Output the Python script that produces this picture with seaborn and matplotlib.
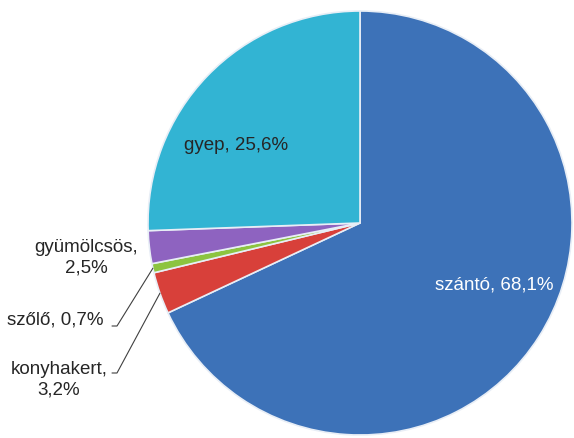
import numpy as np
import matplotlib
matplotlib.use('Agg')
import matplotlib.pyplot as plt
import seaborn as sns

# adatok (a kepről leolvasva)
categories = ['szántó', 'konyhakert', 'szőlő', 'gyümölcsös', 'gyep']
values = [68.1, 3.2, 0.7, 2.5, 25.6]
labels = ['szántó, 68,1%', 'konyhakert,\n3,2%', 'szőlő, 0,7%', 'gyümölcsös,\n2,5%', 'gyep, 25,6%']
colors = ['#3d72b8', '#d8403a', '#8cc440', '#8e63c0', '#32b4d3']

sns.set_theme(style='white')
plt.rcParams['font.family'] = ['Liberation Sans', 'DejaVu Sans']

fig = plt.figure(figsize=(5.74, 4.38), dpi=100)
ax = fig.add_axes([0, 0, 1, 1])

cx, cy, r = 360, 438 - 223, 212
wedges, _ = ax.pie(values, colors=colors, startangle=90, counterclock=False,
                   center=(cx, cy), radius=r, frame=True,
                   wedgeprops=dict(edgecolor='#e8eef6', linewidth=1.2))
ax.set_xlim(0, 574)
ax.set_ylim(0, 438)
ax.set_aspect('equal')
ax.axis('off')

fs = 13.5
txt = '#262626'
# belső feliratok
ax.text(236, 438 - 145, labels[4], fontsize=fs, color=txt, ha='center', va='center')
ax.text(494, 438 - 285, labels[0], fontsize=fs, color='white', ha='center', va='center')
# külső feliratok
ax.text(86, 438 - 258, labels[3], fontsize=fs, color=txt, ha='center', va='center',
        linespacing=1.3)
ax.text(55, 438 - 320, labels[2], fontsize=fs, color=txt, ha='center', va='center')
ax.text(59, 438 - 380, labels[1], fontsize=fs, color=txt, ha='center', va='center',
        linespacing=1.3)

# vezetővonalak a szelet közepéhez
total = sum(values)
cum = np.cumsum([0] + values)
for idx, (lx, ly) in [(2, (117, 438 - 326)), (1, (117, 438 - 373))]:
    mid = (cum[idx] + cum[idx + 1]) / 2 / total * 360
    ang = np.deg2rad(90 - mid)
    px, py = cx + r * np.cos(ang), cy + r * np.sin(ang)
    ax.plot([lx - 5, lx, px], [ly, ly, py], color='#404040', linewidth=0.8)

plt.savefig('out.png', dpi=100)
plt.close()
